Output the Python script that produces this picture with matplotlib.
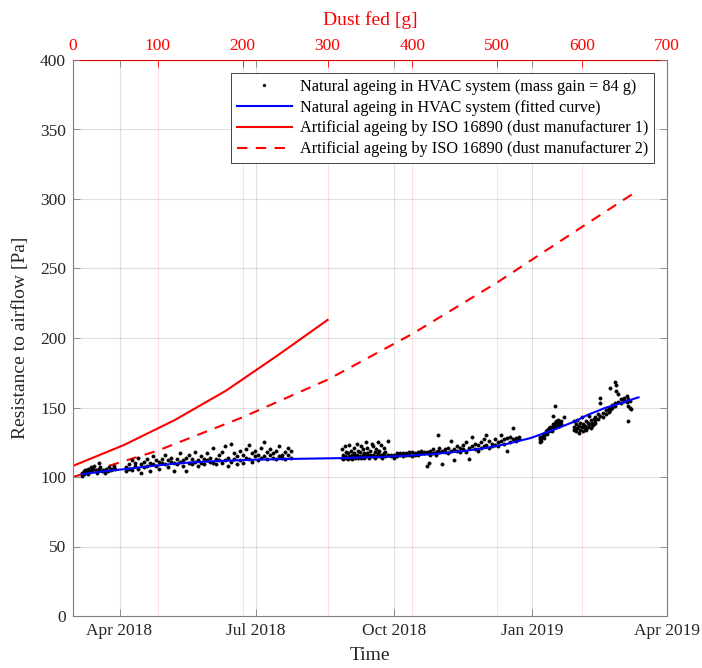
import numpy as np
import pandas as pd
import matplotlib
matplotlib.use("Agg")
import matplotlib.pyplot as plt
import matplotlib.dates as mdates

plt.rcParams['font.family'] = ['Liberation Serif', 'DejaVu Serif']

# ---------------- data ----------------
start_date = "2018-03-01"  # day 0 for the day offsets below

# natural ageing measurements (day offset, resistance Pa)
scatter_days = [
    6, 6, 7, 7, 8, 8, 9, 10, 10, 11, 12, 12, 13, 14, 15, 16, 17, 17, 18, 19, 20, 21, 22, 23, 24, 25, 26, 27, 28,
    35, 35, 37, 37, 39, 39, 41, 41, 43, 43, 45, 45, 47, 47, 49, 49, 51, 51, 53, 53, 55, 55, 57, 57, 59, 59,
    61, 61, 63, 63, 65, 65, 67, 67, 69, 69, 71, 71, 73, 73, 75, 75, 77, 77, 79, 79, 81, 81, 83, 83, 85, 85,
    87, 87, 89, 89, 91, 91, 93, 93, 95, 95, 97, 97, 99, 99, 101, 101, 103, 103, 105, 105, 107, 107, 109, 109,
    111, 111, 113, 113, 115, 115, 117, 117, 119, 119, 121, 121, 123, 123, 125, 125, 127, 127, 129, 129,
    131, 131, 133, 133, 135, 135, 137, 137, 139, 139, 141, 141, 143, 143, 145, 145,
    179, 179, 180, 180, 181, 181, 182, 182, 183, 183, 184, 184, 185, 185, 186, 186, 187, 187, 188, 188,
    189, 189, 190, 190, 191, 191, 192, 192, 193, 193, 194, 194, 195, 195, 196, 196, 197, 197, 198, 198,
    199, 199, 200, 200, 201, 201, 202, 202, 203, 203, 204, 204, 205, 205, 206, 206, 207, 207, 208, 208, 210, 210,
    212, 212, 214, 214, 216, 216, 218, 218, 220, 220, 222, 222, 224, 224, 226, 226, 228, 228, 230, 230,
    232, 232, 234, 234, 236, 236, 237, 237, 238, 238, 240, 240, 242, 242, 243, 243, 244, 244, 246, 246,
    248, 248, 250, 250, 252, 252, 254, 254, 256, 256, 258, 258, 260, 260, 262, 262, 264, 264, 266, 266,
    268, 268, 270, 270, 272, 272, 274, 274, 275, 275, 277, 277, 279, 279, 281, 281, 283, 283, 285, 285,
    287, 287, 289, 289, 291, 291, 293, 293, 295, 295, 297, 297,
    311, 311, 311, 312, 312, 313, 313, 314, 314, 315, 315, 316, 316, 317, 317, 318, 318, 319, 319,
    320, 320, 320, 321, 321, 321, 322, 322, 323, 323, 324, 324, 325, 325, 327,
    334, 334, 334, 335, 335, 336, 336, 337, 337, 338, 338, 339, 339, 340, 340, 341, 341, 342, 342,
    343, 343, 344, 344, 345, 345, 346, 346, 347, 347,
    348, 348, 348, 350, 350, 351, 351, 351, 353, 353, 355, 355, 357, 357, 357, 358, 358, 359, 359,
    361, 361, 361, 362, 362, 363, 363, 365, 365, 367, 367, 369, 369, 370, 370, 370, 371, 371, 372,
]
scatter_pa = [
    101, 103, 102, 104, 103, 105, 104, 102, 106, 105, 104, 107, 106, 108, 105, 103, 106, 110, 107, 104, 105, 103, 106, 104, 107, 105, 106, 108, 106,
    107, 104, 109, 106, 112, 105, 108, 110, 114, 106, 103, 109, 111, 107, 113, 108, 104, 110, 115, 109, 108, 112, 106, 111, 110, 113,
    116, 109, 107, 112, 111, 114, 104, 110, 113, 109, 117, 111, 108, 112, 104, 114, 110, 116, 113, 109, 118, 111, 112, 108, 115, 110,
    109, 113, 117, 112, 111, 114, 121, 110, 113, 109, 116, 112, 110, 118, 122, 112, 114, 108, 124, 111, 113, 117, 109, 115,
    112, 119, 116, 110, 114, 120, 123, 113, 117, 111, 115, 119, 112, 116, 121, 114, 125, 115, 113, 118,
    116, 120, 114, 117, 119, 113, 122, 115, 116, 114, 113, 118, 121, 116, 114, 119,
    114, 120, 113, 116, 122, 115, 114, 118, 117, 113, 123, 115, 114, 119, 116, 113, 121, 117, 115, 114,
    124, 116, 114, 119, 118, 115, 122, 114, 116, 120, 114, 117, 125, 115, 117, 121, 115, 114, 119, 116,
    124, 115, 116, 122, 114, 118, 120, 115, 117, 125, 115, 119, 123, 116, 116, 114, 121, 117, 115, 118, 126, 116,
    115, 116, 116, 114, 117, 115, 116, 117, 115, 117, 117, 116, 116, 118, 118, 115, 117, 116, 116, 118,
    119, 117, 117, 118, 108, 118, 110, 117, 119, 116, 117, 120, 118, 116, 130, 119, 118, 121, 109, 119,
    120, 118, 117, 121, 126, 119, 112, 120, 119, 122, 121, 118, 123, 120, 118, 125, 113, 121, 129, 122,
    120, 124, 123, 119, 125, 121, 122, 127, 130, 123, 121, 126, 124, 122, 127, 123, 122, 125, 126, 130,
    124, 127, 119, 128, 125, 129, 135, 127, 126, 128, 129, 127,
    125, 127, 129, 126, 128, 129, 131, 130, 128, 132, 133, 131, 134, 133, 135, 134, 136, 136, 133,
    138, 135, 144, 137, 139, 151, 136, 140, 138, 141, 139, 137, 140, 138, 143,
    136, 134, 140, 133, 138, 135, 141, 132, 137, 139, 134, 136, 143, 133, 138, 137, 135, 140, 134,
    136, 139, 138, 144, 135, 141, 139, 137, 142, 138,
    141, 139, 143, 142, 145, 157, 153, 144, 143, 146, 145, 148, 147, 150, 149, 164, 148, 150, 152,
    168, 153, 151, 166, 162, 160, 154, 153, 156, 155, 157, 154, 158, 151, 140, 156, 150, 155, 149,
]

# fitted curve for natural ageing (day offset, Pa)
fit_days = [6, 20, 33, 50, 66, 80, 99, 120, 145, 180, 210, 238, 260, 276, 290, 305, 320, 335, 343, 355, 365, 372, 377]
fit_pa = [102, 104, 105.5, 107.6, 109.4, 110.6, 111.6, 112.4, 113, 113.6, 114.6, 116.3, 118.6, 121, 124, 128,
          133.8, 140.2, 144.6, 149.8, 153, 155.6, 157.3]

# artificial ageing, dust manufacturer 1
dust1_g = [0, 60, 120, 180, 240, 300]
dust1_pa = [108, 123, 141, 162, 187, 213]

# artificial ageing, dust manufacturer 2
dust2_g = [0, 100, 200, 300, 400, 500, 600, 663]
dust2_pa = [100, 119, 143, 170, 203, 240, 280, 305]

legend_labels = [
    "Natural ageing in HVAC system (mass gain = 84 g)",
    "Natural ageing in HVAC system (fitted curve)",
    "Artificial ageing by ISO 16890 (dust manufacturer 1)",
    "Artificial ageing by ISO 16890 (dust manufacturer 2)",
]

# ---------------- plot ----------------
t0 = pd.Timestamp(start_date)
sc_dates = t0 + pd.to_timedelta(scatter_days, unit="D")
fit_dates = t0 + pd.to_timedelta(fit_days, unit="D")

fig = plt.figure(figsize=(7.02, 6.68), dpi=100)
ax = fig.add_axes([73 / 702, 52 / 668, 594 / 702, 556 / 668])
ax2 = ax.twiny()
ax.set_zorder(ax2.get_zorder() + 1)
ax.patch.set_visible(False)
ax2.patch.set_facecolor("white")

gray = "#262626"
spine_gray = "#7f7f7f"

# secondary (dust) axis: red lines
l3, = ax2.plot(dust1_g, dust1_pa, color="#ff0000", lw=1.5)
l4, = ax2.plot(dust2_g, dust2_pa, color="#ff0000", lw=1.5, ls=(0, (5, 4)))
ax2.set_xlim(0, 700)
ax2.set_xticks(np.arange(0, 701, 100))
ax2.grid(True, axis="x", color="#ff0000", alpha=0.13, lw=0.8)
ax2.tick_params(axis="x", direction="in", colors="#ff0000", labelcolor="#ff0000",
                labelsize=12.5, length=5, width=0.6, pad=4)
ax2.set_xlabel("Dust fed [g]", color="#ff0000", fontsize=14, labelpad=10)
for s in ["bottom", "left", "right"]:
    ax2.spines[s].set_visible(False)
ax2.spines["top"].set_color("#ff0000")
ax2.spines["top"].set_linewidth(0.8)

# primary axis
l1, = ax.plot(sc_dates, scatter_pa, ls="none", marker="o", ms=2.3, mew=0.5,
              color="black", mec="black")
l2, = ax.plot(fit_dates, fit_pa, color="#0000ff", lw=1.5)
ax.set_xlim(pd.Timestamp("2018-03-01"), pd.Timestamp("2019-04-01"))
ax.set_ylim(0, 400)
ax2.set_ylim(0, 400)
ax.set_yticks(np.arange(0, 401, 50))
ax.xaxis.set_major_locator(mdates.MonthLocator(bymonth=[1, 4, 7, 10]))
ax.xaxis.set_major_formatter(mdates.DateFormatter("%b %Y"))
ax.set_axisbelow(True)
ax.grid(True, color="#000000", alpha=0.12, lw=0.8)
ax.tick_params(direction="in", top=True, right=True, labelsize=12.5, length=5, width=0.6,
               colors=spine_gray, labelcolor=gray, pad=5)
ax.spines["top"].set_visible(False)
for s in ["bottom", "left", "right"]:
    ax.spines[s].set_color(spine_gray)
    ax.spines[s].set_linewidth(0.8)
ax.set_xlabel("Time", fontsize=14, color=gray, labelpad=6)
ax.set_ylabel("Resistance to airflow [Pa]", fontsize=14, color=gray, labelpad=8)

leg = ax.legend([l1, l2, l3, l4], legend_labels, loc="upper right", fontsize=11.7,
                frameon=True, fancybox=False, framealpha=1, edgecolor="#262626",
                handlelength=3.4, labelspacing=0.3, borderaxespad=0.8, handletextpad=0.5,
                borderpad=0.35, markerscale=0.8)
leg.get_frame().set_linewidth(0.6)
for t in leg.get_texts():
    t.set_color("black")

fig.savefig("out.png", dpi=100)
